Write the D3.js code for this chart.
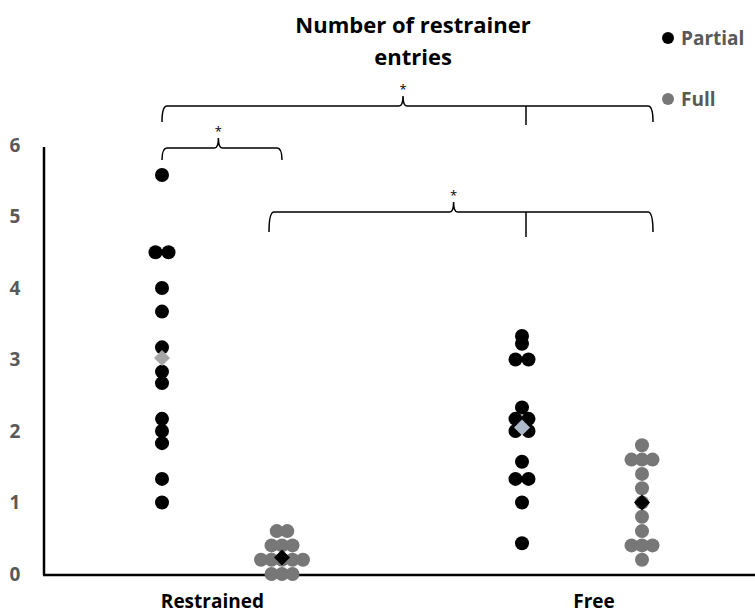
<!DOCTYPE html>
<html>

<head>
    <meta charset="utf-8">
    <title>Number of restrainer entries</title>
    <style>
        body {
            margin: 0;
            background: #fff;
        }

        text {
            font-family: "Open Sans", Lato, sans-serif;
            font-weight: bold;
        }

        .bracket {
            fill: none;
            stroke: #000;
            stroke-width: 1.5px;
        }
    </style>
    <script src="https://d3js.org/d3.v7.min.js"></script>
</head>

<body>
    <script>
        // values
        var categories = ["Restrained", "Free"];
        var series = ["Partial", "Full"];
        var yTicks = [0, 1, 2, 3, 4, 5, 6];

        var restrainedPartial = [5.58, 4.5, 4.5, 4.0, 3.67, 3.17, 2.83, 2.67, 2.17, 2.0, 1.83, 1.33, 1.0];
        var restrainedFull = [0.6, 0.6, 0.4, 0.4, 0.4, 0.2, 0.2, 0.2, 0.2, 0.2, 0, 0, 0];
        var freePartial = [3.33, 3.22, 3.0, 3.0, 2.33, 2.17, 2.17, 2.0, 2.0, 1.57, 1.33, 1.33, 1.0, 0.43];
        var freeFull = [1.8, 1.6, 1.6, 1.6, 1.4, 1.2, 1.0, 0.8, 0.6, 0.4, 0.4, 0.4, 0.2];
        var groupMeans = [3.02, 0.23, 2.05, 1.0];

        var w = 755;
        var h = 613;

        var svg = d3.select("body").append("svg")
            .attr("width", w)
            .attr("height", h);

        // groups sit on slots 0,1 (Restrained) and 3,4 (Free)
        var x = d3.scaleLinear().domain([0, 4]).range([162, 642]);
        var y = d3.scaleLinear().domain([0, 6]).range([574, 145]);

        var groups = [
            { cat: 0, ser: 0, slot: 0, values: restrainedPartial, mean: groupMeans[0], meanColor: "#a6a6a6" },
            { cat: 0, ser: 1, slot: 1, values: restrainedFull, mean: groupMeans[1], meanColor: "#000" },
            { cat: 1, ser: 0, slot: 3, values: freePartial, mean: groupMeans[2], meanColor: "#adb9ca" },
            { cat: 1, ser: 1, slot: 4, values: freeFull, mean: groupMeans[3], meanColor: "#000" }
        ];
        var colors = ["#000000", "#777777"];
        var spread = [13, 10.5];

        // axes lines
        svg.append("line")
            .attr("x1", 44).attr("x2", 44)
            .attr("y1", y(6) + 2).attr("y2", y(0) + 1)
            .attr("stroke", "#000").attr("stroke-width", 2.5);
        svg.append("line")
            .attr("x1", 43).attr("x2", w)
            .attr("y1", y(0) + 1).attr("y2", y(0) + 1)
            .attr("stroke", "#000").attr("stroke-width", 2.5);

        svg.selectAll(".ytick")
            .data(yTicks)
            .enter()
            .append("text")
            .attr("class", "ytick")
            .attr("x", 15)
            .attr("y", function (d) { return y(d); })
            .attr("dy", "0.35em")
            .attr("text-anchor", "middle")
            .style("font-size", "19px")
            .style("fill", "#595959")
            .text(function (d) { return d; });

        // category labels
        var labelSlot = [0.42, 3.6];
        svg.selectAll(".xlabel")
            .data(categories)
            .enter()
            .append("text")
            .attr("class", "xlabel")
            .attr("x", function (d, i) { return x(labelSlot[i]); })
            .attr("y", 608)
            .attr("text-anchor", "middle")
            .style("font-size", "19px")
            .style("fill", "#000")
            .text(function (d) { return d; });

        // swarm: equal values spread sideways
        var points = [];
        groups.forEach(function (g) {
            var counts = d3.rollup(g.values, function (v) { return v.length; }, function (d) { return d; });
            var seen = new Map();
            g.values.forEach(function (v) {
                var n = counts.get(v);
                var k = seen.get(v) || 0;
                seen.set(v, k + 1);
                points.push({
                    x: x(g.slot) + (k - (n - 1) / 2) * spread[g.ser],
                    v: v,
                    color: colors[g.ser]
                });
            });
        });

        svg.selectAll("circle.pt")
            .data(points)
            .enter()
            .append("circle")
            .attr("class", "pt")
            .attr("cx", function (d) { return d.x; })
            .attr("cy", function (d) { return y(d.v); })
            .attr("r", 7)
            .style("fill", function (d) { return d.color; });

        svg.selectAll("path.mean")
            .data(groups)
            .enter()
            .append("path")
            .attr("class", "mean")
            .attr("transform", function (d) { return "translate(" + x(d.slot) + "," + y(d.mean) + ")"; })
            .attr("d", "M0,-8L8,0L0,8L-8,0Z")
            .style("fill", function (d) { return d.meanColor; });

        // significance brackets
        function bracket(x1, x2, xm, y0, drop, tick) {
            var r = 5;
            var p = "M" + x1 + "," + (y0 + drop) +
                "Q" + x1 + "," + y0 + " " + (x1 + r) + "," + y0 +
                "L" + (xm - 4) + "," + y0 +
                "Q" + xm + "," + y0 + " " + xm + "," + (y0 - 10) +
                "Q" + xm + "," + y0 + " " + (xm + 4) + "," + y0 +
                "L" + (x2 - r) + "," + y0 +
                "Q" + x2 + "," + y0 + " " + x2 + "," + (y0 + drop);
            svg.append("path").attr("class", "bracket").attr("d", p);
            if (tick) {
                svg.append("line")
                    .attr("x1", tick.x).attr("x2", tick.x)
                    .attr("y1", y0).attr("y2", y0 + tick.len)
                    .attr("stroke", "#000").attr("stroke-width", 1.5);
            }
            svg.append("text")
                .attr("x", xm)
                .attr("y", y0 - 12)
                .attr("text-anchor", "middle")
                .style("font-size", "13px")
                .style("font-weight", "normal")
                .text("*");
        }

        bracket(x(0), x(4) + 11, x(2) + 1, 106, 16, { x: x(3) + 4, len: 19 });
        bracket(x(0), x(1), x(0.47), 148, 12);
        bracket(x(1) - 13, x(4) + 11, x(2.43), 212, 20, { x: x(3) + 4, len: 25 });

        // title
        svg.append("text")
            .attr("x", 413)
            .attr("y", 33)
            .attr("text-anchor", "middle")
            .style("font-size", "22px")
            .text("Number of restrainer");
        svg.append("text")
            .attr("x", 413)
            .attr("y", 65)
            .attr("text-anchor", "middle")
            .style("font-size", "22px")
            .text("entries");

        // legend
        var legend = svg.selectAll(".legend")
            .data(series)
            .enter()
            .append("g")
            .attr("class", "legend")
            .attr("transform", function (d, i) { return "translate(668," + (38 + i * 61) + ")"; });
        legend.append("circle")
            .attr("r", 6)
            .style("fill", function (d, i) { return colors[i]; });
        legend.append("text")
            .attr("x", 13)
            .attr("dy", "0.35em")
            .style("font-size", "19px")
            .style("fill", "#595959")
            .text(function (d) { return d; });
    </script>

</body>

</html>
